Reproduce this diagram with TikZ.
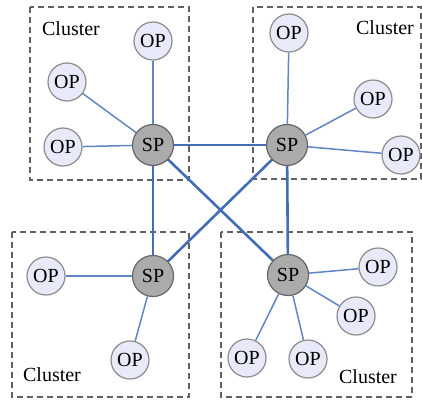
\documentclass[tikz,border=0pt]{standalone}
\usepackage{fontspec}
\setmainfont{Liberation Serif}
\begin{document}
\begin{tikzpicture}[x=1pt,y=-1pt,
  box/.style={draw=black!62, dash pattern=on 6pt off 4pt, line width=1.4pt},
  sp/.style={circle, draw=black!60, fill=black!33, line width=1.2pt, minimum size=41pt, inner sep=0pt, font=\fontsize{20}{21}\selectfont},
  op/.style={circle, draw=black!45, fill={rgb,255:red,232;green,234;blue,250}, line width=1.2pt, minimum size=38pt, inner sep=0pt, font=\fontsize{20}{21}\selectfont},
  lbl/.style={font=\fontsize{20}{21}\selectfont, inner sep=0pt},
  splink/.style={draw={rgb,255:red,65;green,110;blue,180}, line width=2.6pt},
  oplink/.style={draw={rgb,255:red,95;green,135;blue,195}, line width=1.5pt}]
\fill[white] (0,0) rectangle (422,401);
\useasboundingbox (0,0) rectangle (422,401);
% cluster boxes
\draw[box] (30,7) rectangle (189,180);
\draw[box] (253,7) rectangle (421,179);
\draw[box] (12,232) rectangle (189,397);
\draw[box] (221,232) rectangle (412,397);
% labels
\node[lbl] (l1) at (71,29) {Cluster};
\node[lbl] (l2) at (385,28) {Cluster};
\node[lbl] (l3) at (52,375) {Cluster};
\node[lbl] (l4) at (368,377) {Cluster};
% SP positions
\coordinate (a) at (153,145);
\coordinate (b) at (287,145);
\coordinate (c) at (153,276);
\coordinate (d) at (288,275);
% links between SP
\draw[splink] (a) -- (b);
\draw[splink] (a) -- (c);
\draw[splink] (a) -- (d);
\draw[splink] (b) -- (d);
\draw[splink] (b) -- (c);
% OP nodes
\node[op] (a1) at (153,41) {OP};
\node[op] (a2) at (67,82) {OP};
\node[op] (a3) at (63,147) {OP};
\node[op] (b1) at (289,33) {OP};
\node[op] (b2) at (373,99) {OP};
\node[op] (b3) at (401,155) {OP};
\node[op] (c1) at (46,276) {OP};
\node[op] (c2) at (130,360) {OP};
\node[op] (d1) at (378,267) {OP};
\node[op] (d2) at (356,316) {OP};
\node[op] (d3) at (247,358) {OP};
\node[op] (d4) at (308,359) {OP};
\node[sp] (A) at (a) {SP};
\node[sp] (B) at (b) {SP};
\node[sp] (C) at (c) {SP};
\node[sp] (D) at (d) {SP};
\foreach \s/\o in {A/a1,A/a2,A/a3,B/b1,B/b2,B/b3,C/c1,C/c2,D/d1,D/d2,D/d3,D/d4}
  \draw[oplink] (\s) -- (\o);
\end{tikzpicture}
\end{document}
